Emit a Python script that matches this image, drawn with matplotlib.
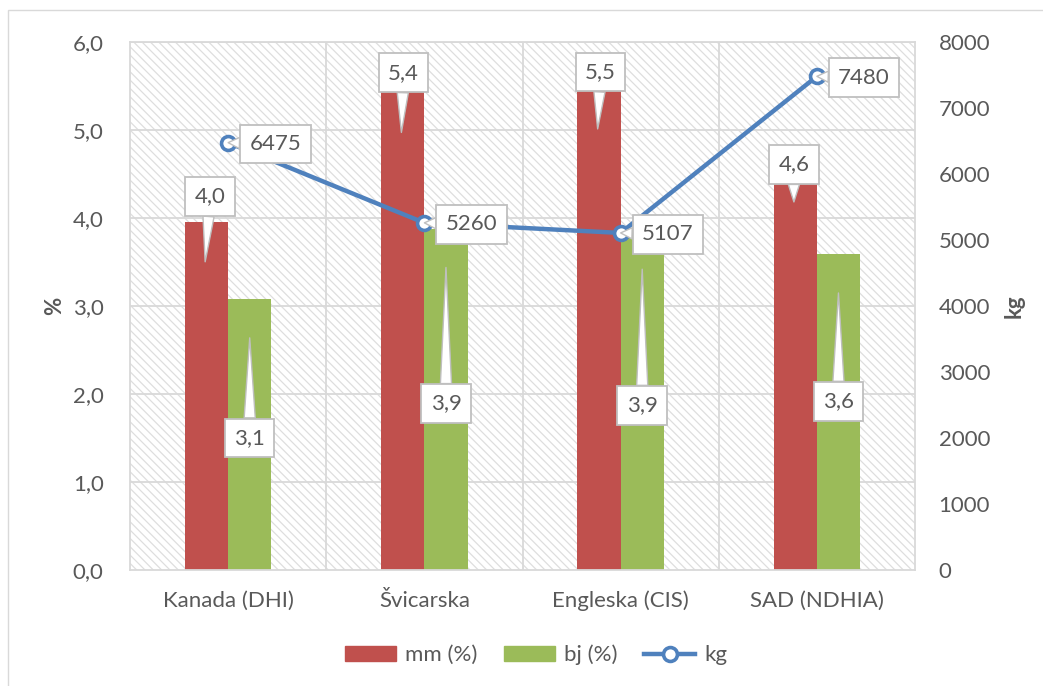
import matplotlib
matplotlib.use("Agg")
import matplotlib.pyplot as plt
import numpy as np
from matplotlib.patches import Rectangle, Patch
from matplotlib.lines import Line2D
from matplotlib.transforms import offset_copy
from matplotlib.ticker import FuncFormatter

categories = ["Kanada (DHI)", "Švicarska", "Engleska (CIS)", "SAD (NDHIA)"]
mm_values = [3.96, 5.43, 5.47, 4.64]
bj_values = [3.08, 3.88, 3.86, 3.59]
kg_values = [6475, 5260, 5107, 7480]
left_ticks = [0, 1, 2, 3, 4, 5, 6]
right_ticks = [0, 1000, 2000, 3000, 4000, 5000, 6000, 7000, 8000]

RED = "#C0504D"
GREEN = "#9BBB59"
BLUE = "#4F81BD"
GRID = "#D9D9D9"
TXT = "#595959"
FS = 16

plt.rcParams['font.family'] = ['Lato', 'DejaVu Sans']
plt.rcParams['hatch.color'] = "#DEDEDE"
plt.rcParams['hatch.linewidth'] = 0.9

fig = plt.figure(figsize=(10.43, 6.86), dpi=100)
# outer chart border
fig.patches.append(Rectangle((8/1043, -0.01), 1.1, (686-10)/686 + 0.01, transform=fig.transFigure,
                             fill=False, ec="#D9D9D9", lw=1.0, zorder=0))

ax = fig.add_axes([130/1043, 1-570/686, (915-130)/1043, (570-42)/686])
x = np.arange(len(categories))
w = 0.22

ax.set_xlim(-0.5, 3.5)
ax.set_ylim(0, 6)

# hatched background
bg = Rectangle((0, 0), 1, 1, transform=ax.transAxes, facecolor="white", edgecolor="#DEDEDE",
               hatch="\\\\\\\\", lw=0, zorder=0)
ax.add_patch(bg)
ax.set_facecolor("white")

for t in left_ticks[1:]:
    ax.axhline(t, color=GRID, lw=1.3, zorder=1)
for b in [0.5, 1.5, 2.5]:
    ax.axvline(b, color=GRID, lw=1.3, zorder=1)

ax.bar(x - w/2, mm_values, w, color=RED, zorder=2)
ax.bar(x + w/2, bj_values, w, color=GREEN, zorder=2)

for s in ax.spines.values():
    s.set_color(GRID)
    s.set_linewidth(1.3)

ax.set_yticks(left_ticks)
ax.yaxis.set_major_formatter(FuncFormatter(lambda v, p: f"{v:.1f}".replace('.', ',')))
ax.tick_params(axis='y', length=0, pad=19, labelsize=FS, labelcolor=TXT)
ax.set_xticks(x)
ax.set_xticklabels(categories)
ax.tick_params(axis='x', length=0, pad=15, labelsize=FS, labelcolor=TXT)
ax.set_ylabel("%", fontsize=FS, fontweight='bold', color=TXT)
ax.yaxis.set_label_coords((65-130)/785, 0.5)

ax2 = ax.twinx()
ax2.set_ylim(0, 8000)
ax2.set_yticks(right_ticks)
ax2.tick_params(axis='y', length=0, pad=17, labelsize=FS, labelcolor=TXT)
for s in ax2.spines.values():
    s.set_visible(False)
ax2.set_ylabel("kg", fontsize=FS, fontweight='bold', color=TXT, rotation=90)
ax2.yaxis.set_label_coords((1004-130)/785, 0.5)
ax2.plot(x, kg_values, color=BLUE, lw=3.2, marker='o', ms=10, mfc='white', mec=BLUE, mew=2.6, zorder=3)

box = dict(boxstyle="square,pad=0.42", fc="white", ec="#BFBFBF", lw=1.3)
wedge = dict(arrowstyle="wedge,tail_width=0.5,shrink_factor=0.5", fc="white", ec="#BFBFBF", lw=1.0,
             shrinkA=0, shrinkB=0)

def callout(axis, xv, yv, label, tip_dy, tx, ty, xoff=0):
    tr = offset_copy(axis.transData, fig=fig, x=xoff, y=tip_dy, units='points')
    axis.annotate(label, xy=(xv, yv), xycoords=tr, xytext=(tx, ty), textcoords='offset points',
                  ha='center', va='center', fontsize=FS, color=TXT, bbox=box, arrowprops=wedge,
                  zorder=5)

# mm labels
mm_off = [(3.5, 47), (1.5, 43), (2.0, 41), (0, 27)]
for i, v in enumerate(mm_values):
    lab = f"{v:.1f}".replace('.', ',')
    tx, ty = mm_off[i]
    callout(ax, x[i] - w/2, v, lab, -29, tx, ty, xoff=-1)

# bj labels
bj_off = [(0, -72), (0, -98), (0, -98), (0, -78)]
for i, v in enumerate(bj_values):
    lab = f"{v:.1f}".replace('.', ',')
    tx, ty = bj_off[i]
    callout(ax, x[i] + w/2, v, lab, -28, tx, ty)

# kg labels
for i, v in enumerate(kg_values):
    callout(ax2, x[i], v, str(v), 0, 34, -1)

handles = [Patch(color=RED, label="mm (%)"), Patch(color=GREEN, label="bj (%)"),
           Line2D([], [], color=BLUE, lw=3.2, marker='o', ms=10, mfc='white', mec=BLUE, mew=2.6, label="kg")]
fig.legend(handles=handles, loc='center', bbox_to_anchor=(0.514, 1-655/686), ncol=3, frameon=False,
           fontsize=FS, labelcolor=TXT, handlelength=2.3, handleheight=0.65, columnspacing=1.2,
           handletextpad=0.4)

fig.savefig("out.png", dpi=100)
